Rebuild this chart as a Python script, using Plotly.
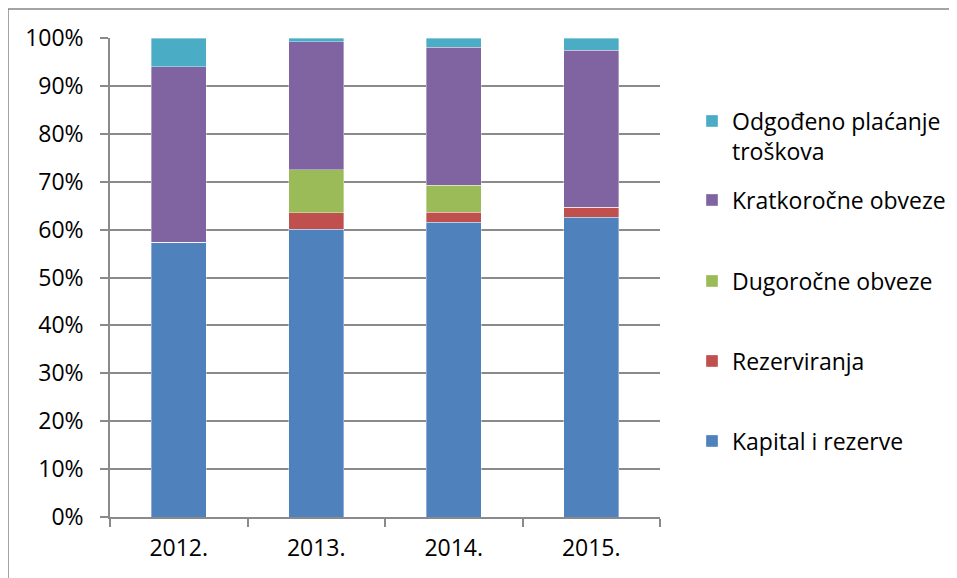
import plotly.graph_objects as go

years = ["2012.", "2013.", "2014.", "2015."]
kapital = [57.4, 60.1, 61.5, 62.6]
rezerviranja = [0.0, 3.4, 2.1, 2.1]
dugorocne = [0.0, 9.0, 5.7, 0.0]
kratkorocne = [36.6, 26.7, 28.8, 32.7]
odgodeno = [6.0, 0.8, 1.9, 2.6]

series = [
    ("Kapital i rezerve", kapital, "#4F81BD", "legend5"),
    ("Rezerviranja", rezerviranja, "#C0504D", "legend4"),
    ("Dugoročne obveze", dugorocne, "#9BBB59", "legend3"),
    ("Kratkoročne obveze", kratkorocne, "#8064A2", "legend2"),
    ("Odgođeno plaćanje<br>troškova", odgodeno, "#4BACC6", "legend"),
]

FONT = "Open Sans"
FS = 23
OFF = 8  # browser page margin
W, H = 957 - OFF, 578 - OFF
fig = go.Figure()
for name, vals, col, lg in series:
    fig.add_trace(go.Bar(
        x=years, y=vals, name=name, marker_color=col,
        marker_line=dict(width=0.6, color="rgba(255,255,255,0.6)"),
        legend=lg, hoverinfo="x+y+name",
    ))

def leg(py, anchor="middle"):
    return dict(
        x=(692 - OFF) / W, xref="container", xanchor="left",
        y=1 - (py - OFF) / H, yref="container", yanchor=anchor,
        bgcolor="rgba(0,0,0,0)", borderwidth=0,
        font=dict(family=FONT, size=FS, color="#000000"),
        valign="top", itemclick=False, itemdoubleclick=False,
    )

grid = "#8a8a8a"
L, R, T, B = 110 - OFF, 660 - OFF, 38 - OFF, 517 - OFF
fig.update_layout(
    width=W, height=H,
    barmode="stack", bargap=0.6,
    margin=dict(l=L, r=W - R, t=T, b=H - B),
    paper_bgcolor="white", plot_bgcolor="white",
    font=dict(family=FONT, size=FS, color="#000000"),
    showlegend=True,
    legend=leg(136),
    legend2=leg(200),
    legend3=leg(281),
    legend4=leg(361),
    legend5=leg(441),
    xaxis=dict(
        type="category", showline=True, linecolor=grid, linewidth=1.5,
        ticks="outside", tickson="boundaries", ticklen=8, tickcolor=grid, tickwidth=1.5,
        ticklabelstandoff=10,
        showgrid=False, tickfont=dict(family=FONT, size=FS, color="#000000"),
    ),
    yaxis=dict(
        range=[0, 100], tickvals=[0, 10, 20, 30, 40, 50, 60, 70, 80, 90, 100],
        ticktext=["0%", "10%", "20%", "30%", "40%", "50%", "60%", "70%", "80%", "90%", "100%"],
        showgrid=True, gridcolor=grid, gridwidth=1.5,
        showline=True, linecolor=grid, linewidth=1.5,
        ticks="outside", ticklen=8, tickcolor=grid, tickwidth=1.5,
        ticklabelstandoff=12,
        zeroline=False, tickfont=dict(family=FONT, size=FS, color="#000000"),
    ),
    shapes=[dict(
        type="rect", xref="paper", yref="paper",
        x0=(8 - 110) / 550, x1=(990 - 110) / 550,
        y0=(517 - 600) / 479, y1=(517 - 9) / 479,
        line=dict(color="#868686", width=1.5), fillcolor="rgba(0,0,0,0)", layer="below",
    )],
)

fig.write_html("out.html")
